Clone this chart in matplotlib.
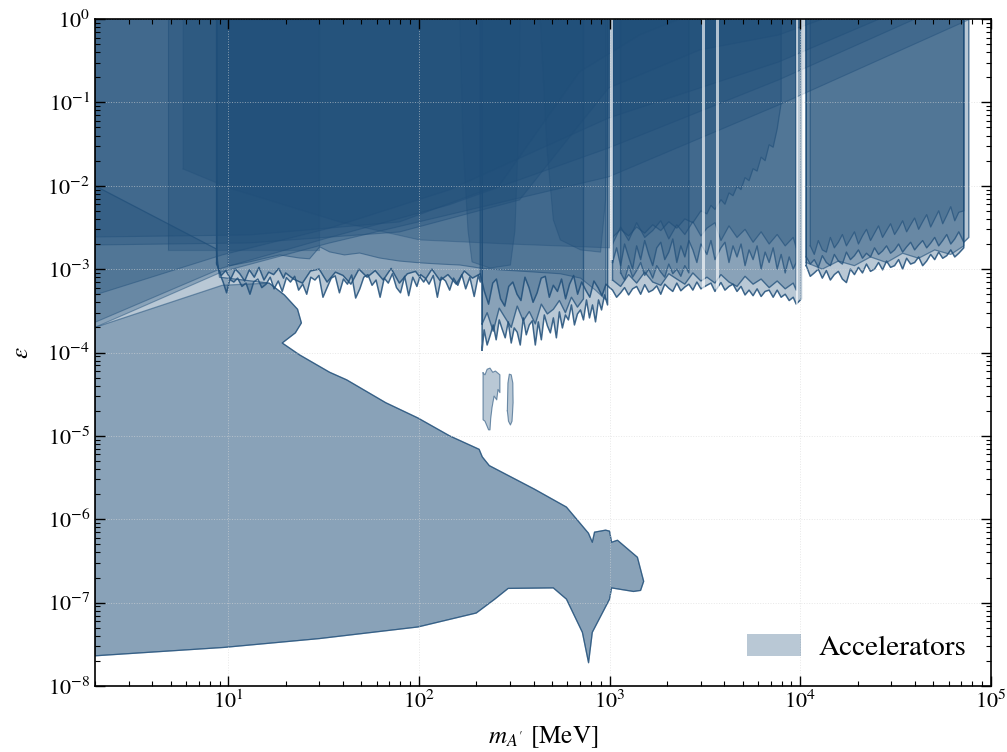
import numpy as np
import matplotlib
matplotlib.use('Agg')
import matplotlib.pyplot as plt
from matplotlib.patches import Patch
from matplotlib.ticker import LogLocator, NullFormatter

plt.rcParams['font.family'] = ['STIXGeneral', 'DejaVu Serif']
plt.rcParams['mathtext.fontset'] = 'stix'

COLOR = '#1f4e79'
ALPHA = 0.31

# ---------------- data (m in MeV, epsilon) ----------------
# beam-dump type region (two overlapping layers)
bd1_left_m = [2.0, 8.65, 9.0]
bd1_left_eps = [1.0e-2, 1.75e-3, 8.0e-4]
bd2_left_m = [2.0, 9.3]
bd2_left_eps = [2.0e-4, 6.4e-4]
bd_outline_m = [16.4, 19.7, 23.1, 24.2, 22.5, 19.2, 23.6, 34, 41.8, 67, 98.8, 145, 207, 215,
                234, 403, 594, 775, 812, 834, 953, 1000, 1025, 1100, 1400, 1510, 1455, 1335,
                1025, 1000, 812, 776, 720, 594, 507, 294, 250, 200, 98.8, 30, 9.5, 2.0]
bd_outline_eps = [6.8e-4, 4.9e-4, 3.3e-4, 2.26e-4, 1.72e-4, 1.3e-4, 9.4e-5, 5.8e-5, 4.7e-5,
                  2.5e-5, 1.64e-5, 1.0e-5, 6.9e-6, 5.6e-6, 4.4e-6, 2.3e-6, 1.4e-6, 6.8e-7,
                  5.3e-7, 7.0e-7, 7.4e-7, 7.2e-7, 5.3e-7, 5.6e-7, 3.5e-7, 1.8e-7, 1.4e-7,
                  1.36e-7, 1.5e-7, 1.1e-7, 4.4e-8, 1.9e-8, 4.4e-8, 1.1e-7, 1.5e-7, 1.48e-7,
                  1.1e-7, 7.5e-8, 5.1e-8, 3.7e-8, 2.9e-8, 2.3e-8]

# small islands
isl1_m = [217, 222, 228, 236, 244, 252, 266, 266, 260, 256, 248, 242, 238, 236, 232, 228, 222, 217]
isl1_eps = [5.7e-5, 5.4e-5, 6.3e-5, 6.5e-5, 5.8e-5, 6.0e-5, 5.4e-5, 3.3e-5, 3.6e-5, 2.7e-5,
            3.0e-5, 2.2e-5, 1.6e-5, 1.18e-5, 1.18e-5, 1.3e-5, 1.5e-5, 1.56e-5]
isl2_m = [291, 293, 298, 305, 311, 312, 308, 302, 295, 291]
isl2_eps = [2.0e-5, 4.3e-5, 5.5e-5, 5.4e-5, 4.3e-5, 2.5e-5, 1.5e-5, 1.35e-5, 1.5e-5, 2.0e-5]

# g-2 like curves (excluded above)
c1_m = [2, 9.3, 34, 144, 990, 7700, 78000]
c1_eps = [2.0e-4, 9.3e-4, 2.06e-3, 4.5e-3, 1.28e-2, 9.3e-2, 1.0]
c2_m = [2, 9.3, 34, 144, 990, 7700, 40000]
c2_eps = [2.3e-4, 1.03e-3, 2.4e-3, 5.9e-3, 2.84e-2, 0.186, 1.0]
c3_m = [2, 9.3, 34, 144, 990, 7700, 26000]
c3_eps = [4.9e-4, 1.48e-3, 3.1e-3, 8.9e-3, 6.5e-2, 0.305, 1.0]
c4_m = [2, 12.9, 79, 337, 990, 2968, 7700, 13100]
c4_eps = [1.95e-3, 2.06e-3, 2.79e-3, 6.76e-3, 0.149, 0.425, 0.643, 1.0]
c5_m = [2, 12.9, 79, 265, 696, 1437, 2330]
c5_eps = [2.43e-3, 2.57e-3, 3.68e-3, 1.02e-2, 0.232, 0.643, 1.0]

# box-like regions
v1_m = [4.83, 30.0]
v1_eps = [1.7e-3, 1.7e-3]
v2_m = [5.8, 10.1, 38.4, 101, 300, 1000]
v2_eps = [1.59e-2, 9.4e-3, 3.68e-3, 2.24e-3, 2.0e-3, 1.8e-3]

# low-mass noisy limit
l1_m = [8.7, 9.0, 9.4, 9.8, 10.2, 10.7, 11.2, 11.8, 12.4, 13.0, 13.6, 14.3, 15.0, 15.8, 16.6,
        17.4, 18.3, 19.2, 20.2, 21.2, 22.3, 23.4, 24.6, 25.8, 27.1, 28.5, 29.9, 31.4, 33.0,
        34.7, 36.4, 38.3, 40.2, 42.2, 44.4, 46.6, 49.0, 51.4, 54.0, 56.8, 59.6, 62.6, 65.8,
        69.1, 72.6, 76.3, 80.1, 84.2, 88.4, 92.9, 97.6, 102, 108, 113, 119, 125, 131, 138,
        145, 152, 160, 168, 176, 185, 195, 205, 210]
l1_eps = [1.2e-3, 9.0e-4, 7.0e-4, 5.2e-4, 7.5e-4, 7.0e-4, 7.8e-4, 6.2e-4, 6.8e-4, 5.0e-4,
          7.0e-4, 7.6e-4, 6.0e-4, 6.6e-4, 8.0e-4, 5.8e-4, 7.2e-4, 5.4e-4, 7.9e-4, 7.0e-4,
          8.2e-4, 5.6e-4, 6.6e-4, 5.0e-4, 8.0e-4, 7.4e-4, 8.4e-4, 4.6e-4, 6.0e-4, 7.8e-4,
          8.3e-4, 5.2e-4, 7.6e-4, 6.6e-4, 8.5e-4, 4.5e-4, 5.8e-4, 8.0e-4, 8.6e-4, 6.4e-4,
          7.4e-4, 4.6e-4, 7.8e-4, 6.8e-4, 8.8e-4, 6.0e-4, 5.2e-4, 8.2e-4, 4.8e-4, 8.0e-4,
          6.2e-4, 8.6e-4, 7.8e-4, 6.6e-4, 8.4e-4, 4.6e-4, 8.0e-4, 7.2e-4, 5.6e-4, 7.8e-4,
          6.4e-4, 8.6e-4, 5.8e-4, 8.0e-4, 4.7e-4, 8.4e-4, 7.0e-4]

# smooth wiggly limit
na_m = [10, 12.9, 18.6, 23.6, 26.7, 30.2, 34, 40.7, 48.9, 62.2, 79.1, 101, 129, 164, 209,
        266, 383, 552, 705, 843, 953]
na_eps = [1.09e-3, 1.22e-3, 1.48e-3, 1.36e-3, 1.33e-3, 1.85e-3, 1.61e-3, 1.48e-3, 1.56e-3,
          1.36e-3, 1.25e-3, 1.19e-3, 1.15e-3, 1.12e-3, 1.03e-3, 9.8e-4, 9.3e-4, 8.8e-4,
          7.8e-4, 5.6e-4, 4.3e-4]

# U-shaped regions
k1_m = [164, 170, 181, 190, 236, 302, 319, 332, 340]
k1_eps = [1.0, 3.54e-2, 2.9e-3, 1.22e-3, 1.03e-3, 1.12e-3, 2.9e-3, 3.54e-2, 1.0]
k2_m = [433, 470, 507, 552, 705, 897, 953, 1000]
k2_eps = [1.0, 2.7e-2, 3.9e-3, 2.24e-3, 1.7e-3, 1.6e-3, 6.8e-3, 1.0]

# deep noisy limits (214 MeV - 1 GeV)
l2_m = [214.6, 219.9, 228, 236.5, 245.3, 254.3, 263.8, 273.5, 283.6, 294.1, 305, 316.2, 327.9,
        340.1, 352.7, 365.7, 379.3, 393.3, 407.9, 423, 438.7, 454.9, 471.8, 489.2, 507.4,
        526.1, 545.6, 565.8, 586.8, 608.5, 631, 654.4, 678.6, 703.8, 729.8, 756.8, 784.8,
        813.9, 844, 875.3, 907.7, 941.3, 976.1]
l2_eps = [1.07e-4, 1.87e-4, 1.23e-4, 1.6e-4, 2.14e-4, 1.42e-4, 2.46e-4, 1.9e-4, 1.5e-4, 2.33e-4,
          1.3e-4, 1.97e-4, 1.75e-4, 1.23e-4, 2.6e-4, 1.63e-4, 2.14e-4, 2.4e-4, 1.23e-4, 2.33e-4,
          1.42e-4, 2.82e-4, 2.1e-4, 1.72e-4, 2.6e-4, 1.5e-4, 3.07e-4, 1.97e-4, 2.82e-4, 2.46e-4,
          3.72e-4, 2.14e-4, 2.9e-4, 3.24e-4, 2.46e-4, 4.27e-4, 2.6e-4, 3.72e-4, 2.33e-4, 4.27e-4,
          3.24e-4, 4.91e-4, 3.72e-4]
l2b_m = [214.6, 228, 245.3, 263.8, 283.6, 305, 327.9, 352.7, 379.3, 407.9, 438.7, 471.8,
         507.4, 545.6, 586.8, 631, 678.6, 729.8]
l2b_eps = [2.2e-4, 3.0e-4, 1.8e-4, 3.4e-4, 2.6e-4, 2.0e-4, 3.6e-4, 2.4e-4, 3.1e-4, 2.2e-4,
           3.8e-4, 2.9e-4, 3.3e-4, 4.2e-4, 3.0e-4, 4.6e-4, 3.5e-4, 4.4e-4]

# wide noisy limit (9 MeV - 10 GeV)
bb_m = [8.7, 9.2, 9.7, 10.3, 10.9, 11.5, 12.2, 12.9, 13.7, 14.5, 15.4, 16.3, 17.3, 18.4, 19.5,
        20, 22, 24.5, 27, 30, 33, 36.5, 40, 44, 48.5, 53.5, 59, 65, 71.5, 79, 87, 96, 106,
        117, 129, 142, 157, 173, 191, 210,
        220, 232, 244, 255, 268, 282, 296, 311, 327, 343, 360, 378, 397, 417, 438, 460, 483,
        507, 533, 560, 588, 617, 648, 680, 714, 750, 788, 828, 870, 913, 958, 1000,
        1037, 1089, 1143, 1199, 1259, 1321, 1387, 1456, 1529, 1605, 1684, 1768, 1856, 1948,
        2045, 2146, 2253, 2365, 2482, 2606, 2735, 2871, 3014, 3241, 3402, 3571, 3839, 4030,
        4230, 4441, 4661, 4893, 5136, 5391, 5659, 5940, 6236, 6545, 6871, 7212, 7571, 7943,
        8340, 8753, 9188, 9527, 10150]
bb_eps = [1.15e-3, 8.4e-4, 9.6e-4, 7.6e-4, 1.0e-3, 8.8e-4, 7.2e-4, 9.8e-4, 8.0e-4, 1.05e-3,
          7.4e-4, 9.2e-4, 8.6e-4, 1.02e-3, 7.8e-4,
          9.0e-4, 7.6e-4, 6.8e-4, 9.5e-4, 1.0e-3, 7.0e-4, 9.2e-4, 8.4e-4, 6.6e-4, 1.0e-3,
          8.0e-4, 9.6e-4, 7.4e-4, 1.02e-3, 6.8e-4, 8.8e-4, 9.4e-4, 7.0e-4, 1.0e-3, 7.3e-4,
          8.6e-4, 6.6e-4, 9.5e-4, 7.8e-4, 8.8e-4,
          5.5e-4, 3.8e-4, 6.8e-4, 7.6e-4, 4.4e-4, 3.6e-4, 6.2e-4, 7.0e-4, 5.0e-4, 4.2e-4,
          8.0e-4, 6.0e-4, 4.0e-4, 5.2e-4, 7.8e-4, 8.2e-4, 4.6e-4, 6.4e-4, 5.4e-4, 7.6e-4,
          4.4e-4, 6.6e-4, 8.4e-4, 5.0e-4, 7.0e-4, 5.6e-4, 4.6e-4, 7.2e-4, 6.0e-4, 4.8e-4,
          6.6e-4, 6.0e-4,
          5.6e-4, 4.6e-4, 5.2e-4, 6.0e-4, 4.9e-4, 5.8e-4, 6.2e-4, 5.0e-4, 6.5e-4, 5.3e-4,
          5.6e-4, 6.3e-4, 5.0e-4, 6.6e-4, 5.9e-4, 5.4e-4, 6.8e-4, 5.5e-4, 6.1e-4, 6.6e-4,
          5.6e-4, 7.0e-4, 5.8e-4, 6.4e-4, 6.8e-4, 5.4e-4, 6.9e-4, 5.6e-4, 6.2e-4, 6.6e-4,
          5.4e-4, 6.2e-4, 4.9e-4, 5.6e-4, 4.8e-4, 5.8e-4, 4.7e-4, 5.4e-4, 5.6e-4, 4.6e-4,
          5.6e-4, 4.6e-4, 5.0e-4, 4.2e-4, 4.6e-4, 3.8e-4, 4.4e-4]

# noisy limits in 1-10 GeV
mid_m = [1037, 1089, 1143, 1199, 1259, 1321, 1387, 1456, 1529, 1605, 1684, 1768, 1856, 1948,
         2045, 2146, 2253, 2365, 2482, 2606, 2735, 2871, 3014, 3241, 3402, 3571, 3839, 4030,
         4230, 4441, 4661, 4893, 5136, 5391, 5659, 5940, 6236, 6545, 6871, 7212, 7571, 7943,
         8340, 8753, 9188, 9527]
l5_eps = [1.2e-3, 1.8e-3, 1.1e-3, 2.0e-3, 1.4e-3, 1.0e-3, 1.9e-3, 1.3e-3, 2.2e-3, 1.5e-3,
          1.1e-3, 1.8e-3, 2.1e-3, 1.3e-3, 1.6e-3, 2.3e-3, 1.2e-3, 1.9e-3, 1.4e-3, 2.2e-3,
          1.7e-3, 1.2e-3, 2.0e-3, 1.5e-3, 2.2e-3, 1.3e-3, 1.8e-3, 2.1e-3, 1.2e-3, 1.9e-3,
          1.4e-3, 2.0e-3, 1.1e-3, 1.7e-3, 1.3e-3, 1.9e-3, 1.0e-3, 1.6e-3, 1.2e-3, 1.8e-3,
          1.0e-3, 1.5e-3, 9.0e-4, 1.4e-3, 1.0e-3, 1.2e-3]

l10_m = [1037, 1143, 1259, 1387, 1529, 1684, 1856, 2045, 2253, 2482, 2735, 3014, 3241, 3571,
         3839, 4230, 4661, 5136, 5659, 6236, 6871, 7571, 8340, 9188, 9527]
l10_eps = [2.0e-3, 3.2e-3, 2.2e-3, 3.6e-3, 2.4e-3, 2.9e-3, 3.8e-3, 2.3e-3, 3.4e-3, 2.6e-3,
           3.7e-3, 2.5e-3, 3.1e-3, 3.6e-3, 2.2e-3, 3.3e-3, 2.4e-3, 3.0e-3, 2.1e-3, 2.8e-3,
           2.0e-3, 2.6e-3, 1.9e-3, 2.4e-3, 1.8e-3]
l11_eps = [7.4e-4, 6.2e-4, 8.6e-4, 6.8e-4, 9.2e-4, 7.0e-4, 6.4e-4, 8.8e-4, 7.6e-4, 6.6e-4,
           9.0e-4, 7.2e-4, 8.0e-4, 6.8e-4, 8.6e-4, 7.0e-4, 6.2e-4, 8.2e-4, 6.6e-4, 7.6e-4,
           6.0e-4, 7.2e-4, 5.8e-4, 6.8e-4, 5.6e-4]

# 1.1-2.6 GeV limit
l9_m = [1143, 1199, 1259, 1321, 1387, 1456, 1529, 1605, 1684, 1768, 1856, 1948, 2045, 2146,
        2253, 2365, 2482, 2606]
l9_eps = [9.0e-4, 7.4e-4, 1.1e-3, 8.0e-4, 9.6e-4, 1.2e-3, 8.4e-4, 1.0e-3, 7.8e-4, 1.1e-3,
          9.2e-4, 8.0e-4, 1.15e-3, 8.8e-4, 1.0e-3, 8.2e-4, 1.1e-3, 9.0e-4]

# rising limit (1-8 GeV)
l8_m = [1037, 1143, 1259, 1387, 1529, 1684, 1856, 2045, 2253, 2482, 2735, 3014, 3241, 3402,
        3571, 3839, 4030, 4230, 4441, 4661, 4893, 5136, 5391, 5659, 5940, 6236, 6545, 6871,
        7212, 7571, 7943]
l8_eps = [2.4e-3, 3.0e-3, 2.5e-3, 3.2e-3, 2.7e-3, 3.4e-3, 2.9e-3, 3.7e-3, 3.1e-3, 4.0e-3,
          3.6e-3, 5.0e-3, 4.6e-3, 5.8e-3, 5.2e-3, 6.8e-3, 6.0e-3, 8.2e-3, 7.6e-3, 9.8e-3,
          9.0e-3, 1.25e-2, 1.15e-2, 1.6e-2, 1.5e-2, 2.2e-2, 2.0e-2, 3.1e-2, 2.9e-2, 4.8e-2,
          9.8e-2]

# high-mass limits (10-77 GeV)
hm = [10755, 11290, 11850, 12440, 13060, 13710, 14390, 15100, 15850, 16640, 17470, 18340,
      19250, 20200, 21210, 22260, 23370, 24530, 25750, 27030, 28370, 29780, 31260, 32810,
      34440, 36150, 37940, 39810, 41790, 43870, 46050, 48330, 50730, 53250, 55900, 58680,
      61590, 64650, 67860, 72080]
h1_eps = [1.1e-3, 8.2e-4, 9.0e-4, 1.0e-3, 7.8e-4, 9.6e-4, 7.4e-4, 8.6e-4, 9.4e-4, 7.6e-4,
          6.9e-4, 1.0e-3, 8.6e-4, 1.05e-3, 9.0e-4, 1.15e-3, 9.4e-4, 1.0e-3, 1.2e-3, 9.8e-4,
          1.25e-3, 1.05e-3, 1.1e-3, 1.3e-3, 1.0e-3, 1.35e-3, 1.15e-3, 1.2e-3, 1.4e-3, 1.1e-3,
          1.25e-3, 1.5e-3, 1.3e-3, 1.6e-3, 1.35e-3, 1.45e-3, 1.7e-3, 1.4e-3, 1.55e-3, 1.8e-3]
h2_m = hm + [76600]
h2_eps = [1.4e-3, 1.15e-3, 1.3e-3, 1.05e-3, 1.45e-3, 1.2e-3, 1.1e-3, 1.5e-3, 1.25e-3, 1.15e-3,
          1.6e-3, 1.3e-3, 1.45e-3, 1.7e-3, 1.35e-3, 1.55e-3, 1.4e-3, 1.8e-3, 1.5e-3, 1.65e-3,
          1.9e-3, 1.55e-3, 1.7e-3, 2.0e-3, 1.6e-3, 1.85e-3, 2.1e-3, 1.7e-3, 1.95e-3, 2.2e-3,
          1.8e-3, 2.05e-3, 2.4e-3, 1.9e-3, 2.2e-3, 2.6e-3, 2.0e-3, 2.3e-3, 2.8e-3, 2.1e-3, 2.4e-3]
h3_m = hm[1:]
h3_eps = [1.9e-3, 1.5e-3, 2.2e-3, 1.7e-3, 1.6e-3, 2.4e-3, 1.8e-3, 2.1e-3, 2.6e-3, 1.9e-3,
          2.3e-3, 2.8e-3, 2.0e-3, 2.5e-3, 3.0e-3, 2.2e-3, 2.7e-3, 3.3e-3, 2.4e-3, 2.9e-3,
          3.5e-3, 2.6e-3, 3.1e-3, 3.8e-3, 2.8e-3, 3.4e-3, 4.1e-3, 3.0e-3, 3.7e-3, 4.5e-3,
          3.2e-3, 4.0e-3, 5.0e-3, 3.5e-3, 4.4e-3, 5.6e-3, 3.8e-3, 4.8e-3, 5.0e-3]
h4_m = [10755, 13060, 15850, 19250, 23370, 28370, 34440, 41790, 50730, 61590, 72080]
h4_eps = [1.2e-3, 1.0e-3, 1.25e-3, 1.1e-3, 1.4e-3, 1.2e-3, 1.55e-3, 1.35e-3, 1.7e-3, 1.5e-3, 1.9e-3]

# resonance windows (unconstrained gaps)
gap_lo_m = [1003, 3040, 3600, 9450, 10150]
gap_hi_m = [1040, 3160, 3730, 9750, 10650]
gap_eps_min = [1.3e-3, 3e-4, 3e-4, 3e-4, 3e-4]

# ---------------- figure ----------------
fig = plt.figure(figsize=(10.07, 7.52), dpi=100)
ax = fig.add_axes([0.0943, 0.0878, 0.8897, 0.8869])
ax.set_xscale('log')
ax.set_yscale('log')


def draw_poly(xs, ys, edge_alpha=0.6, lw=0.8):
    ax.fill(xs, ys, facecolor=COLOR, alpha=ALPHA, edgecolor='none', zorder=1)
    ax.plot(list(xs) + [xs[0]], list(ys) + [ys[0]], color=COLOR, alpha=edge_alpha,
            lw=lw, zorder=1.5, solid_joinstyle='round')


def band(m, lo, edge_alpha=0.6, lw=0.8):
    xs = list(m) + [m[-1], m[0]]
    ys = list(lo) + [1.0, 1.0]
    draw_poly(xs, ys, edge_alpha, lw)


# beam dumps
draw_poly(bd1_left_m + bd_outline_m, bd1_left_eps + bd_outline_eps, 0.7, 0.9)
draw_poly(bd2_left_m + bd_outline_m, bd2_left_eps + bd_outline_eps, 0.5, 0.9)
draw_poly(isl1_m, isl1_eps, 0.6, 0.8)
draw_poly(isl2_m, isl2_eps, 0.6, 0.8)

# g-2 like
for cm, ce in [(c1_m, c1_eps), (c2_m, c2_eps), (c3_m, c3_eps), (c4_m, c4_eps), (c5_m, c5_eps)]:
    band(cm, ce, 0.45, 0.8)

band(v1_m, v1_eps, 0.4)
band(v2_m, v2_eps, 0.35)
band(k1_m, k1_eps, 0.4)
band(k2_m, k2_eps, 0.4)
band(na_m, na_eps, 0.55)
band(l1_m, l1_eps, 0.85, 1.1)
band(bb_m, bb_eps, 0.85, 1.1)
band(l2_m, l2_eps, 0.85, 1.1)
band(l2b_m, l2b_eps, 0.75, 1.0)
band(mid_m, l5_eps, 0.7, 1.0)
band(l10_m, l10_eps, 0.6, 0.9)
band(l10_m, l11_eps, 0.75, 1.0)
band(l9_m, l9_eps, 0.7, 1.0)
band(l8_m, l8_eps, 0.6, 0.9)
band(hm, h1_eps, 0.85, 1.1)
band(h2_m, h2_eps, 0.75, 1.0)
band(h3_m, h3_eps, 0.65, 0.9)
band(h4_m, h4_eps, 0.6, 0.9)

# resonance gaps
for a, b, lo in zip(gap_lo_m, gap_hi_m, gap_eps_min):
    ax.fill_between([a, b], [lo, lo], [1.0, 1.0], facecolor='white', alpha=0.65,
                    edgecolor='none', zorder=1.8)

ax.set_xlim(2, 1e5)
ax.set_ylim(1e-8, 1)

ax.xaxis.set_major_locator(LogLocator(base=10, numticks=20))
ax.xaxis.set_minor_locator(LogLocator(base=10, subs=np.arange(2, 10), numticks=20))
ax.xaxis.set_minor_formatter(NullFormatter())
ax.yaxis.set_major_locator(LogLocator(base=10, numticks=20))
ax.yaxis.set_minor_locator(LogLocator(base=10, subs=np.arange(2, 10), numticks=20))
ax.yaxis.set_minor_formatter(NullFormatter())

ax.tick_params(which='both', direction='in', top=True, right=True, labelsize=16)
ax.tick_params(which='major', length=7, width=1.0)
ax.tick_params(which='minor', length=3.5, width=0.8)
for s in ax.spines.values():
    s.set_linewidth(1.2)
    s.set_zorder(5)

ax.set_axisbelow(False)
ax.grid(True, which='major', ls=':', lw=0.7, color='#d8d8d8', alpha=0.6)

ax.set_xlabel(r"$m_{A'}$ [MeV]", fontsize=18, labelpad=8)
ax.set_ylabel(r"$\varepsilon$", fontsize=18, labelpad=10)

leg = ax.legend(handles=[Patch(facecolor=COLOR, alpha=ALPHA, edgecolor='none', label='Accelerators')],
                loc='lower right', bbox_to_anchor=(1.0, 0.0), borderaxespad=0.45,
                frameon=False, fontsize=21, handlelength=1.85, handleheight=0.75,
                handletextpad=0.6)

fig.savefig('out.png', dpi=100)
